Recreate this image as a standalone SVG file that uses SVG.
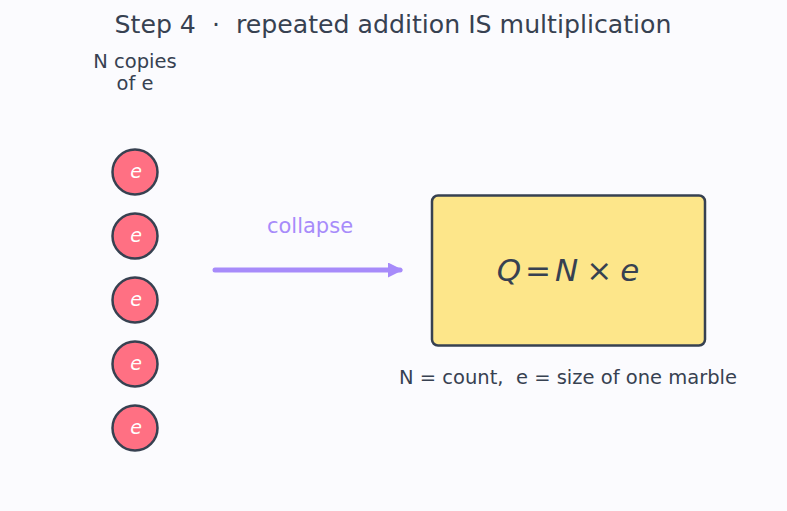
<svg xmlns="http://www.w3.org/2000/svg" width="787" height="511" viewBox="0 0 787 511">
<style>
text{font-family:"DejaVu Sans","Liberation Sans",sans-serif;fill:#374151}
.marble circle{fill:#ff7083;stroke:#374151;stroke-width:2.5}
.marble text{fill:#ffffff;font-style:italic;font-size:19px;text-anchor:middle}
.lbl{font-size:19.5px;text-anchor:middle}
</style>
<defs>
<marker id="ah" viewBox="0 0 10 10" refX="8" refY="5" markerWidth="3" markerHeight="3" orient="auto" markerUnits="strokeWidth">
<path d="M0,0 L10,5 L0,10 z" fill="#a78bfa"/>
</marker>
</defs>
<rect width="787" height="511" fill="#fbfbfe"/>
<text x="393" y="33" font-size="25.2" text-anchor="middle" xml:space="preserve">Step 4  ·  repeated addition IS multiplication</text>
<g id="label-copies">
<text class="lbl" x="135" y="68">N copies</text>
<text class="lbl" x="135" y="90">of e</text>
</g>
<g id="marble1" class="marble"><circle cx="135" cy="172" r="22.5"/><text x="136" y="178">e</text></g>
<g id="marble2" class="marble"><circle cx="135" cy="236" r="22.5"/><text x="136" y="242">e</text></g>
<g id="marble3" class="marble"><circle cx="135" cy="300" r="22.5"/><text x="136" y="306">e</text></g>
<g id="marble4" class="marble"><circle cx="135" cy="364" r="22.5"/><text x="136" y="370">e</text></g>
<g id="marble5" class="marble"><circle cx="135" cy="428" r="22.5"/><text x="136" y="434">e</text></g>
<g id="connectors">
<line x1="215" y1="270" x2="400" y2="270" stroke="#a78bfa" stroke-width="5" stroke-linecap="round" marker-end="url(#ah)"/>
<text x="310" y="233" font-size="21" text-anchor="middle" style="fill:#a78bfa">collapse</text>
</g>
<g id="formula">
<rect x="432" y="195.5" width="273" height="150" rx="6" fill="#fde68a" stroke="#374151" stroke-width="2.5"/>
<text x="568" y="281" font-size="31" text-anchor="middle"><tspan font-style="italic">Q</tspan><tspan dx="4">=</tspan><tspan dx="4" font-style="italic">N</tspan><tspan dx="8">×</tspan><tspan dx="8" font-style="italic">e</tspan></text>
</g>
<text x="568" y="384" font-size="19.5" text-anchor="middle" xml:space="preserve">N = count,  e = size of one marble</text>
</svg>
